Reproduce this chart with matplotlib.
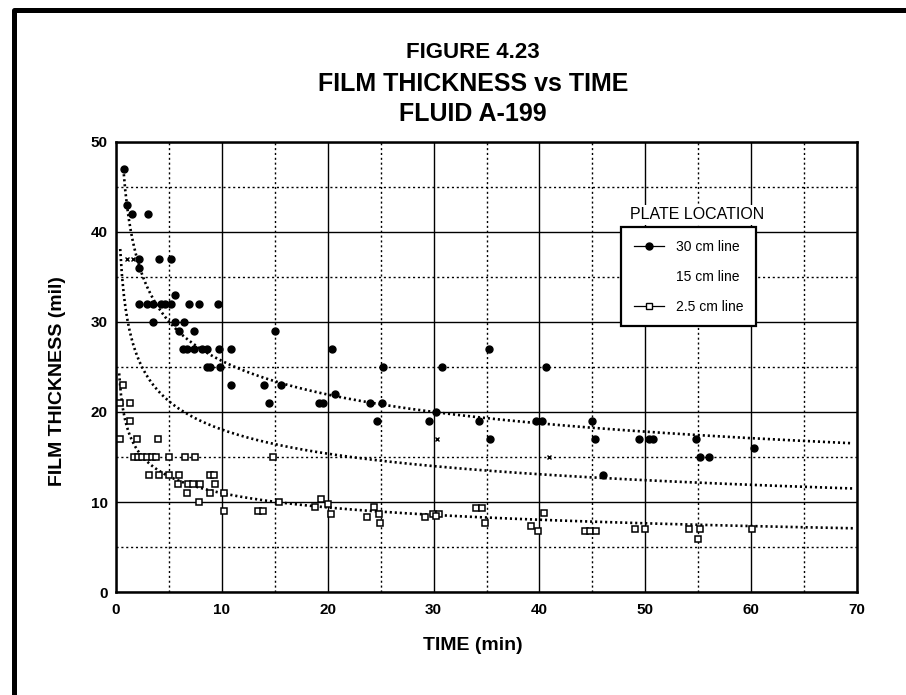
import numpy as np
import matplotlib
matplotlib.use("Agg")
import matplotlib.pyplot as plt
from matplotlib.lines import Line2D
from matplotlib.ticker import MultipleLocator

plt.rcParams["font.family"] = ["Liberation Sans", "DejaVu Sans"]

# 30 cm line readings (time in min, film thickness in mil)
time_30 = [0.8, 1.0, 1.5, 3.0, 2.2, 2.2, 4.1, 5.2,
           2.2, 2.9, 3.5, 4.3, 4.6, 5.2, 6.9, 7.8, 9.6,
           3.5, 5.6, 6.4, 5.6, 6.0, 7.4,
           6.3, 6.7, 7.4, 8.1, 8.6, 9.7, 10.9,
           8.6, 8.9, 9.8,
           10.9, 14.0, 15.6, 14.5, 15.0,
           20.4, 19.2, 19.6, 20.7, 24.0, 25.1, 24.7, 25.2,
           29.6, 30.2, 30.8, 34.3, 35.2, 35.3, 39.7, 40.2, 40.6,
           45.0, 45.2, 46.0, 49.4, 50.3, 50.7, 54.8, 55.2, 56.0, 60.3]
thick_30 = [47, 43, 42, 42, 37, 36, 37, 37,
            32, 32, 32, 32, 32, 32, 32, 32, 32,
            30, 30, 30, 33, 29, 29,
            27, 27, 27, 27, 27, 27, 27,
            25, 25, 25,
            23, 23, 23, 21, 29,
            27, 21, 21, 22, 21, 21, 19, 25,
            19, 20, 25, 19, 27, 17, 19, 19, 25,
            19, 17, 13, 17, 17, 17, 17, 15, 15, 16]

# 15 cm line readings
time_15 = [1.0, 1.6, 30.3, 40.9]
thick_15 = [37, 37, 17, 15]

# 2.5 cm line readings
time_25 = [0.7, 0.4, 1.3, 1.3, 0.4, 2.0, 4.0,
           1.7, 2.1, 2.5, 2.9, 3.4, 3.8, 5.0, 6.5, 7.5, 14.8,
           3.1, 4.1, 5.0, 6.0, 8.9, 9.3,
           5.9, 6.8, 7.3, 7.9, 9.4,
           6.7, 8.9, 10.2,
           7.8, 15.4, 10.2, 13.4, 13.9,
           18.8, 19.4, 20.0, 20.3, 23.7, 24.4, 24.8, 24.9,
           29.2, 29.9, 30.5, 30.2, 34.0, 34.6, 34.9,
           39.2, 39.9, 40.4, 44.3, 44.8, 45.3, 49.0, 50.0, 54.1, 55.2, 55.0, 60.1]
thick_25 = [23, 21, 21, 19, 17, 17, 17,
            15, 15, 15, 15, 15, 15, 15, 15, 15, 15,
            13, 13, 13, 13, 13, 13,
            12, 12, 12, 12, 12,
            11, 11, 11,
            10, 10, 9, 9, 9,
            9.4, 10.3, 9.8, 8.7, 8.3, 9.4, 8.7, 7.7,
            8.3, 8.7, 8.7, 8.4, 9.3, 9.3, 7.7,
            7.3, 6.8, 8.8, 6.8, 6.8, 6.8, 7, 7, 7, 7, 5.9, 7]

# power-law trend lines: thickness = a * t**b, drawn from t_start to t_end
trend_30 = (43.3, -0.227, 0.7, 69.6)
trend_15 = (30.8, -0.232, 0.4, 69.6)
trend_25 = (18.5, -0.226, 0.3, 69.6)

fig = plt.figure(figsize=(9.06, 6.95), dpi=100)
ax = fig.add_axes([0.128, 0.148, 0.818, 0.648])

ax.set_xlim(0, 70)
ax.set_ylim(0, 50)
ax.xaxis.set_major_locator(MultipleLocator(10))
ax.xaxis.set_minor_locator(MultipleLocator(5))
ax.yaxis.set_major_locator(MultipleLocator(10))
ax.yaxis.set_minor_locator(MultipleLocator(5))
ax.grid(which="major", color="black", lw=1.0, ls="-")
ax.grid(which="minor", color="black", lw=1.0, ls=(0, (1.5, 2)))
ax.set_axisbelow(True)
ax.tick_params(which="both", length=0)
ax.tick_params(axis="x", pad=8)
ax.tick_params(axis="y", pad=6)
for lab in ax.get_xticklabels() + ax.get_yticklabels():
    lab.set_fontsize(11)
    lab.set_fontweight("bold")
for sp in ax.spines.values():
    sp.set_linewidth(1.8)

for a, b, t0, t1 in (trend_30, trend_15, trend_25):
    tt = np.linspace(t0, t1, 400)
    ax.plot(tt, a * tt ** b, color="black", lw=1.9, ls=(0, (0.8, 1.1)))

ax.plot(time_30, thick_30, "o", color="black", ms=5, zorder=4)
ax.plot(time_15, thick_15, "x", color="black", ms=3.5, mew=1, zorder=4)
ax.plot(time_25, thick_25, "s", mfc="white", mec="black", mew=1.1, ms=4.2, zorder=4)

handles = [
    Line2D([], [], color="black", lw=0.9, marker="o", ms=5),
    Line2D([], [], color="none", lw=0),
    Line2D([], [], color="black", lw=0.9, marker="s", ms=4.2, mfc="white", mec="black"),
]
leg = ax.legend(handles, ["30 cm line", "15 cm line", "2.5 cm line"],
                loc="upper left", bbox_to_anchor=(0.682, 0.81),
                fontsize=10, frameon=True, fancybox=False, framealpha=1,
                edgecolor="black", borderpad=0.9, labelspacing=1.15,
                handlelength=2.2, handletextpad=0.8, borderaxespad=0)
leg.get_frame().set_linewidth(1.6)
ax.text(0.784, 0.838, "PLATE LOCATION", transform=ax.transAxes,
        ha="center", va="center", fontsize=11.5, zorder=6,
        bbox=dict(facecolor="white", edgecolor="none", pad=2))

fig.text(0.522, 1 - 53 / 695, "FIGURE 4.23", ha="center", va="center",
         fontsize=16, fontweight="bold")
fig.text(0.522, 1 - 84 / 695, "FILM THICKNESS vs TIME", ha="center",
         va="center", fontsize=18, fontweight="bold")
fig.text(0.522, 1 - 114 / 695, "FLUID A-199", ha="center", va="center",
         fontsize=18, fontweight="bold")
fig.text(0.522, 1 - 645 / 695, "TIME (min)", ha="center", va="center",
         fontsize=14, fontweight="bold")
fig.text(57 / 906, 1 - 381 / 695, "FILM THICKNESS (mil)", ha="center",
         va="center", rotation=90, fontsize=14, fontweight="bold")

# page border along the top and left edge
fig.add_artist(Line2D([13.5 / 906, 13.5 / 906, 1.0], [0.0, 1 - 9.5 / 695, 1 - 9.5 / 695],
                      color="black", lw=3.6, transform=fig.transFigure))

fig.savefig("out.png", dpi=100)
